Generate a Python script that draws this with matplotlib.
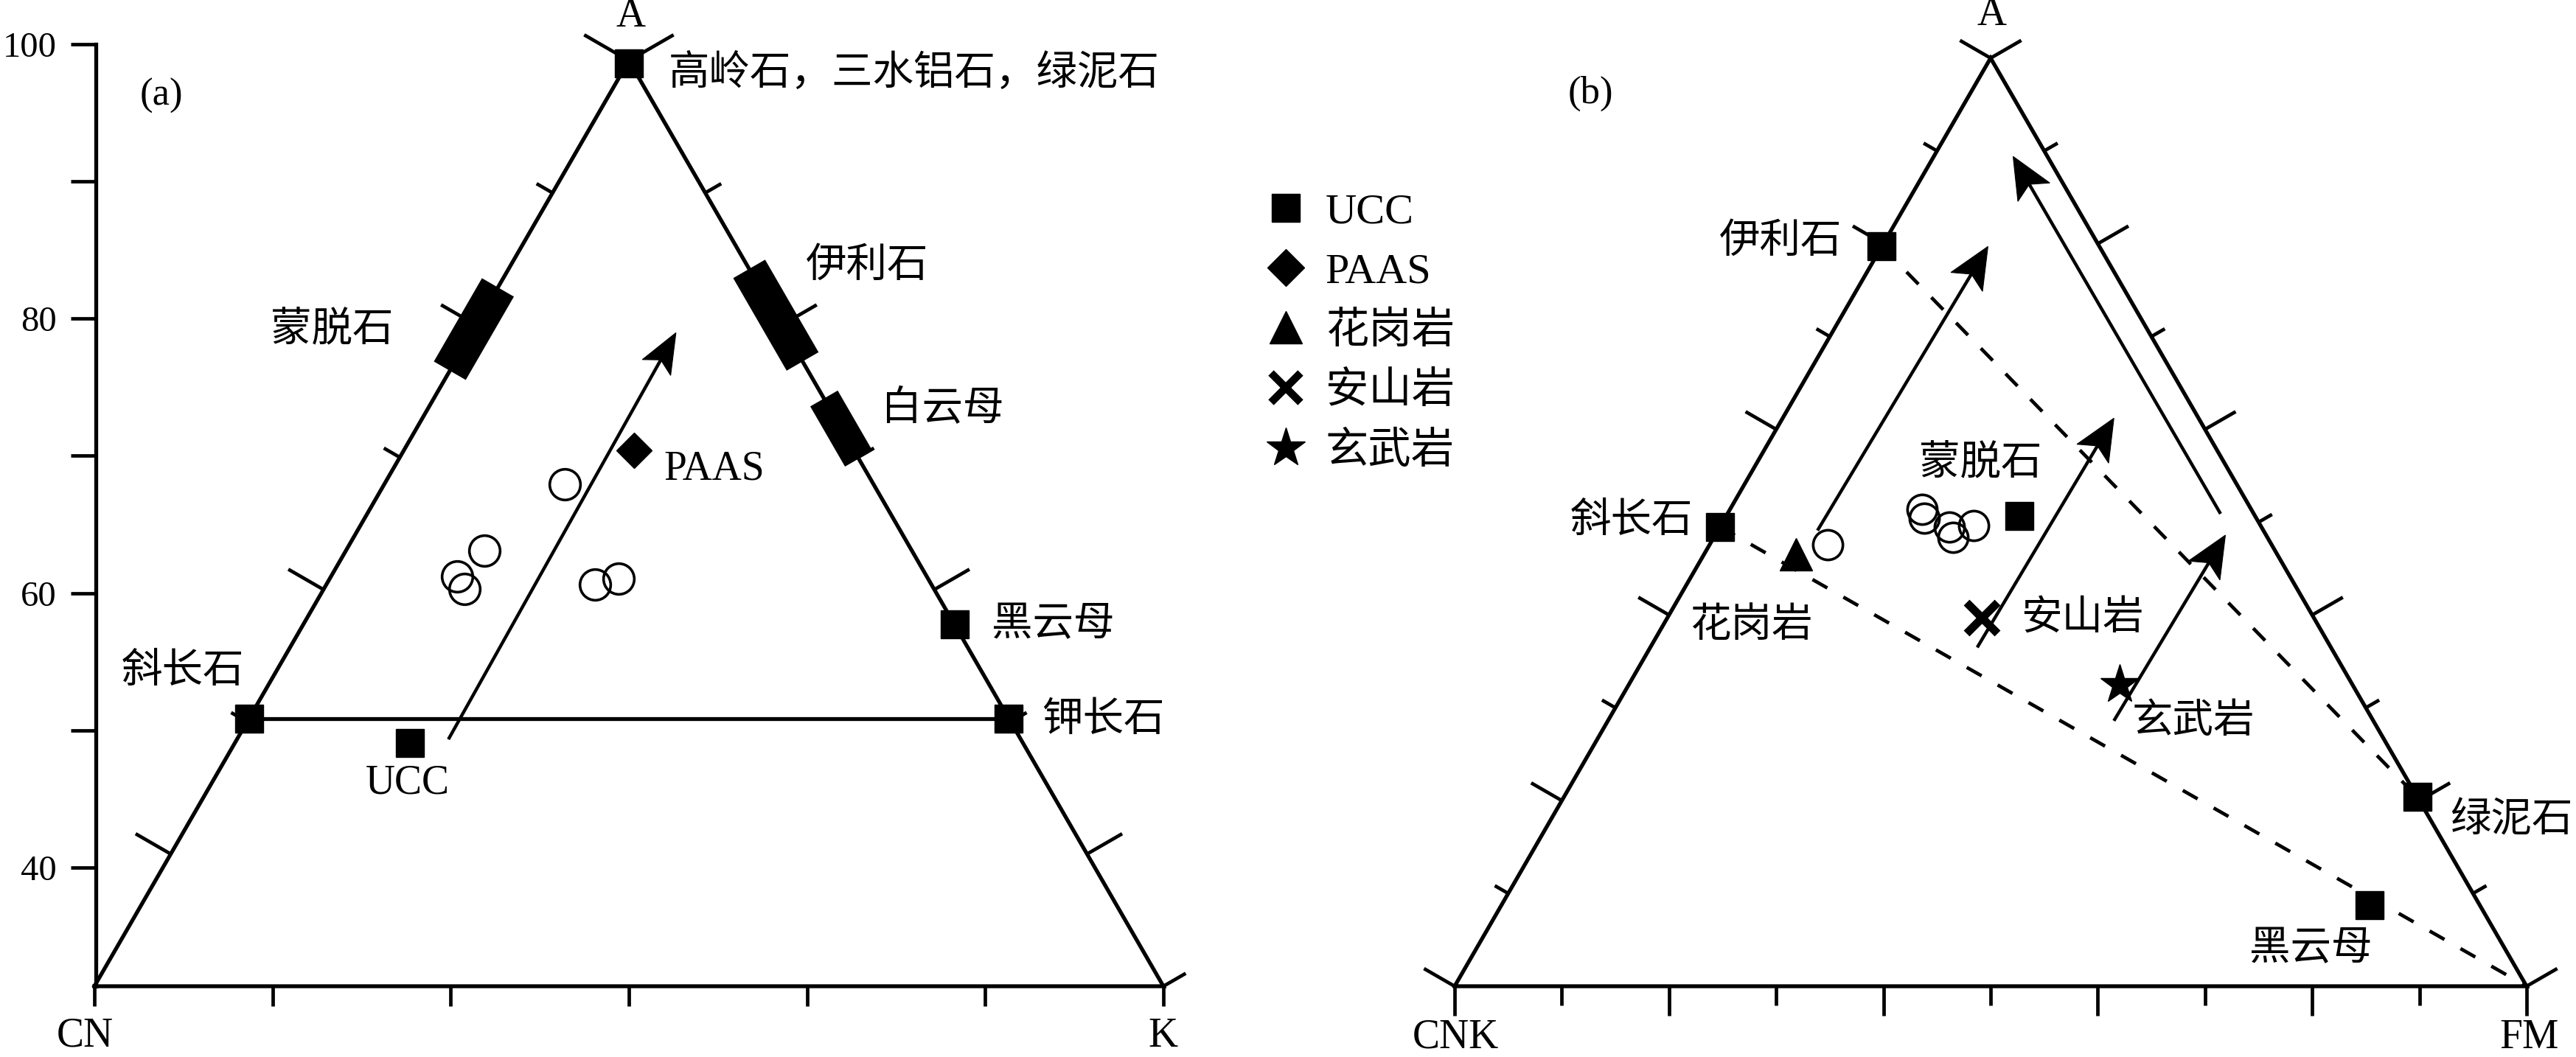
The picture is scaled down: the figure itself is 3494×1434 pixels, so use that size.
import numpy as np
import matplotlib
matplotlib.use("Agg")
import matplotlib.pyplot as plt
from matplotlib.lines import Line2D
from matplotlib.patches import Polygon
from matplotlib.ticker import FixedLocator

plt.rcParams["font.family"] = ["Liberation Serif", "Noto Sans CJK SC"]

# ---------------- panel (a): A - CN - K, compositions as (A, CN, K) % ----------------
a_ucc = (26.3, 57.3, 16.4)
a_paas = (57.9, 20.6, 21.5)
a_samples = [(54.2, 28.9, 16.9), (47.1, 40.0, 12.9), (44.3, 43.9, 11.8),
             (42.9, 43.9, 13.2), (43.4, 31.5, 25.1), (44.0, 29.0, 27.0)]
a_mineral_names = ["高岭石，三水铝石，绿泥石", "斜长石", "钾长石", "黑云母"]
a_mineral_points = [(99.7, 0.15, 0.15), (28.9, 71.1, 0.0), (28.9, 0.0, 71.1), (39.1, 0.0, 60.9)]
a_field_names = ["蒙脱石", "伊利石", "白云母"]
a_field_sides = ["CN", "K", "K"]
a_field_A = [(66.5, 75.5), (67.5, 77.5), (57.0, 63.5)]
a_trend = [(26.7, 53.6, 19.8), (70.6, 10.3, 19.1)]
cia_major = [40, 60, 80, 100]
cia_minor = [50, 70, 90]

# ---------------- panel (b): A - CNK - FM, compositions as (A, CNK, FM) % ----------------
b_mineral_names = ["伊利石", "斜长石", "蒙脱石", "绿泥石", "黑云母"]
b_mineral_points = [(79.7, 20.3, 0.0), (49.5, 50.5, 0.0), (50.7, 22.0, 27.3),
                    (20.4, 0.0, 79.6), (8.7, 10.3, 81.0)]
b_rock_names = ["花岗岩", "安山岩", "玄武岩"]
b_rock_points = [(46.5, 44.9, 8.6), (39.7, 31.0, 29.3), (32.5, 21.7, 45.8)]
b_samples = [(47.6, 41.4, 11.0), (51.4, 30.7, 17.9), (50.4, 31.0, 18.6),
             (49.5, 29.1, 21.4), (48.4, 29.3, 22.3), (49.6, 26.8, 23.6)]
b_trends = [
    [(49.1, 41.6, 9.3), (79.7, 10.4, 9.9)],
    [(36.5, 33.0, 30.5), (61.2, 7.9, 30.9)],
    [(28.6, 24.2, 47.2), (48.6, 3.8, 47.6)],
    [(50.9, 3.1, 46.0), (89.4, 3.2, 7.4)],
]
b_mixing = [
    [(79.7, 20.3, 0.0), (20.4, 0.0, 79.6)],
    [(49.5, 50.5, 0.0), (0.0, 0.0, 100.0)],
]

legend_labels = ["UCC", "PAAS", "花岗岩", "安山岩", "玄武岩"]

# ---------------- styles ----------------
FIG_W, FIG_H, DPI = 3494, 1434, 100
SQ3 = np.sqrt(3) / 2
LW = 3.8
TICK_LW = 3.4
FS = 40
SQ_MS = 27


def tern(p):
    p = np.asarray(p, dtype=float)
    p = p / p.sum(axis=-1, keepdims=True)
    return np.stack([p[..., 2] + p[..., 0] / 2, p[..., 0] * SQ3], axis=-1)


def panel_axes(fig, left_px, right_px, x0_px, side_px, base_px):
    ax = fig.add_axes([left_px / FIG_W, 0, (right_px - left_px) / FIG_W, 1])
    ax.set_xlim((left_px - x0_px) / side_px, (right_px - x0_px) / side_px)
    ax.set_ylim((base_px - FIG_H) / side_px, base_px / side_px)
    ax.set_xticks([])
    ax.set_yticks([])
    for s in ax.spines.values():
        s.set_visible(False)
    ax.patch.set_alpha(0)
    return ax


def frame(ax, side_px, bottom, left, right):
    V = np.array([[0, 0], [1, 0], [0.5, SQ3], [0, 0]])
    ax.plot(V[:, 0], V[:, 1], color="k", lw=LW, solid_joinstyle="miter", zorder=2)
    L, R, T = V[0], V[1], V[2]
    sides = [(L, R, (0, -1), bottom), (L, T, (-SQ3, 0.5), left), (R, T, (SQ3, 0.5), right)]
    for p0, p1, nrm, (n, length) in sides:
        nrm = np.array(nrm)
        for i in range(n + 1):
            ln = length(i)
            if not ln:
                continue
            p = p0 + (p1 - p0) * i / n
            q = p + nrm * ln / side_px
            ax.plot([p[0], q[0]], [p[1], q[1]], color="k", lw=TICK_LW,
                    solid_capstyle="butt", zorder=2)


def arrow(ax, p0, p1, side_px, lw=3.2, hl=56, hw=25):
    p0, p1 = tern(p0), tern(p1)
    d = (p1 - p0) / np.linalg.norm(p1 - p0)
    n = np.array([-d[1], d[0]])
    hl, hw = hl / side_px, hw / side_px
    notch = p1 - d * hl * 0.78
    ax.plot([p0[0], notch[0]], [p0[1], notch[1]], color="k", lw=lw,
            solid_capstyle="butt", zorder=3)
    head = [p1, p1 - d * hl + n * hw, notch, p1 - d * hl - n * hw]
    ax.add_patch(Polygon(head, closed=True, fc="k", ec="k", lw=0.8, zorder=3))


def label(ax, text, p, off, ha="center"):
    ax.annotate(text, xy=tern(p), xytext=off, textcoords="offset pixels",
                ha=ha, va="center", fontsize=FS, zorder=6)


fig = plt.figure(figsize=(FIG_W / DPI, FIG_H / DPI), dpi=DPI)

# ================= panel (a) =================
SA = 1450
ax = panel_axes(fig, 0, 1700, 128, SA, 1338)
frame(ax, SA,
      (6, lambda i: 27),
      (7, lambda i: 0 if i == 0 else (70 if i == 7 else (55 if i % 2 else 25))),
      (7, lambda i: 35 if i == 0 else (70 if i == 7 else (55 if i % 2 else 25))))

# CIA scale on the left
def y_to_cia(y):
    return 40 + (np.asarray(y) / SQ3 - 0.1282) / 0.014827


def cia_to_y(c):
    return (0.1282 + (np.asarray(c) - 40) * 0.014827) * SQ3


sec = ax.secondary_yaxis(130 / 1700, functions=(y_to_cia, cia_to_y))
sec.set_yticks(cia_major)
sec.yaxis.set_minor_locator(FixedLocator(cia_minor))
sec.tick_params(which="both", direction="out", length=24.5, width=TICK_LW,
                labelsize=35, pad=14)
sec.spines["left"].set_linewidth(LW)
sec.spines["left"].set_bounds(float(y_to_cia(0.0)), 100)

# feldspar join
fj = tern([a_mineral_points[1], a_mineral_points[2]])
ax.plot(fj[:, 0], fj[:, 1], color="k", lw=LW, zorder=2)

# clay fields on the sides
for name, side, (a0, a1) in zip(a_field_names, a_field_sides, a_field_A):
    if side == "CN":
        seg = tern([(a0, 100 - a0, 0), (a1, 100 - a1, 0)])
    else:
        seg = tern([(a0, 0, 100 - a0), (a1, 0, 100 - a1)])
    ax.plot(seg[:, 0], seg[:, 1], color="k", lw=36 if name != "白云母" else 31,
            solid_capstyle="butt", zorder=4)

arrow(ax, a_trend[0], a_trend[1], SA, hl=54, hw=22)

pts = tern(a_mineral_points)
ax.plot(pts[:, 0], pts[:, 1], "s", ms=SQ_MS, color="k", zorder=5)
u = tern(a_ucc)
ax.plot(u[0], u[1], "s", ms=SQ_MS, color="k", zorder=5)
pa = tern(a_paas)
ax.plot(pa[0], pa[1], "D", ms=24, color="k", zorder=5)
sm = tern(a_samples)
ax.plot(sm[:, 0], sm[:, 1], "o", ms=30, mfc="none", mec="k", mew=2.6, zorder=5)

label(ax, a_mineral_names[0], a_mineral_points[0], (54, -14), ha="left")
label(ax, a_mineral_names[1], a_mineral_points[1], (-90, 63))
label(ax, a_mineral_names[2], a_mineral_points[2], (128, -3))
label(ax, a_mineral_names[3], a_mineral_points[3], (134, -1))
for name, side, (a0, a1), off in zip(a_field_names, a_field_sides, a_field_A,
                                     [(-193, -2), (124, 66), (137, 25)]):
    am = (a0 + a1) / 2
    p = (am, 100 - am, 0) if side == "CN" else (am, 0, 100 - am)
    label(ax, name, p, off)
label(ax, "UCC", a_ucc, (-4, -55))
label(ax, "PAAS", a_paas, (109, -26))
label(ax, "A", (100, 0, 0), (2, 60))
label(ax, "CN", (0, 100, 0), (-13, -68))
label(ax, "K", (0, 0, 100), (-1, -68))
fig.text(219 / FIG_W, 1 - 130 / FIG_H, "(a)", fontsize=38, ha="center", va="center")

# ================= panel (b) =================
SB = 1454
bx = panel_axes(fig, 1700, FIG_W, 1973, SB, 1338)
frame(bx, SB,
      (10, lambda i: 40 if i % 2 == 0 else 26),
      (10, lambda i: 48 if i % 2 == 0 else 21),
      (10, lambda i: 48 if i % 2 == 0 else 21))

for seg in b_mixing:
    s = tern(seg)
    bx.plot(s[:, 0], s[:, 1], color="k", lw=3.4, ls=(0, (4.9, 5.3)), zorder=2)

for p0, p1 in b_trends:
    arrow(bx, p0, p1, SB)

mp = tern(b_mineral_points)
bx.plot(mp[:, 0], mp[:, 1], "s", ms=SQ_MS, color="k", zorder=5)
rp = tern(b_rock_points)
bx.plot(rp[0, 0], rp[0, 1], "^", ms=31, color="k", zorder=5)
bx.plot(rp[1, 0], rp[1, 1], "x", ms=30, mew=8, color="k", zorder=5)
bx.plot(rp[2, 0], rp[2, 1], "*", ms=40, color="k", zorder=5)
bs = tern(b_samples)
bx.plot(bs[:, 0], bs[:, 1], "o", ms=29, mfc="none", mec="k", mew=2.6, zorder=5)

for name, p, off in zip(b_mineral_names, b_mineral_points,
                        [(-137, 6), (-120, 7), (-52, 70), (128, -33), (-80, -60)]):
    label(bx, name, p, off)
for name, p, off in zip(b_rock_names, b_rock_points, [(-61, -98), (137, -2), (100, -51)]):
    label(bx, name, p, off)
label(bx, "A", (100, 0, 0), (2, 59))
label(bx, "CNK", (0, 100, 0), (1, -70))
label(bx, "FM", (0, 0, 100), (4, -70))
fig.text(2157 / FIG_W, 1 - 127 / FIG_H, "(b)", fontsize=38, ha="center", va="center")

# ================= legend =================
handles = [
    Line2D([], [], ls="none", marker="s", ms=SQ_MS, color="k"),
    Line2D([], [], ls="none", marker="D", ms=25, color="k"),
    Line2D([], [], ls="none", marker="^", ms=31, color="k"),
    Line2D([], [], ls="none", marker="x", ms=29, mew=7.5, color="k"),
    Line2D([], [], ls="none", marker="*", ms=40, color="k"),
]
fig.legend(handles, legend_labels, loc="upper left",
           bbox_to_anchor=(1715 / FIG_W, 1 - 262 / FIG_H), frameon=False,
           fontsize=42, handlelength=1.0, handletextpad=0.42, labelspacing=0.47,
           borderpad=0, borderaxespad=0)

fig.savefig("out.png", dpi=DPI, facecolor="white")
